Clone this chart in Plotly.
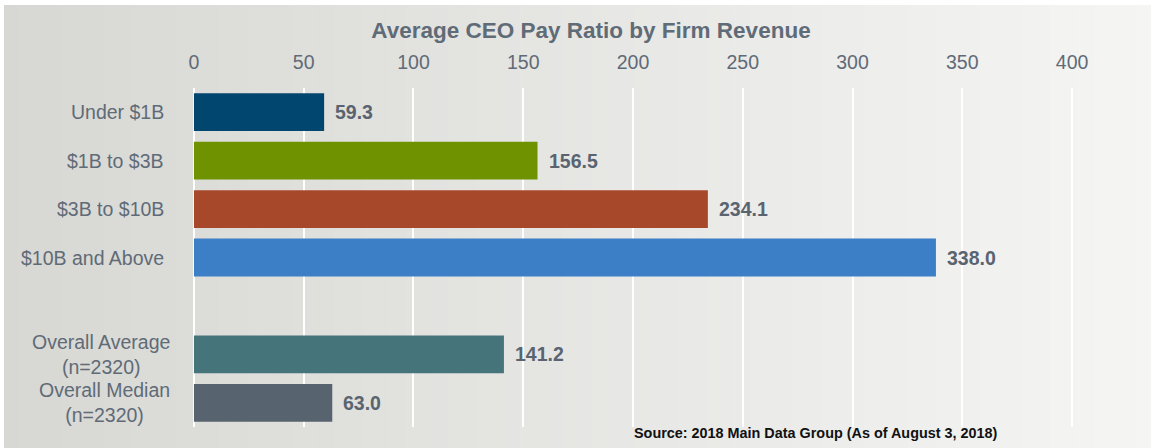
import plotly.graph_objects as go

# ---- data ----
categories = ["Under $1B", "$1B to $3B", "$3B to $10B", "$10B and Above", " ",
              "Overall Average<br>(n=2320)", "Overall Median<br>(n=2320)"]
values = [59.3, 156.5, 234.1, 338.0, None, 141.2, 63.0]
bar_colors = ["#00466f", "#6f9200", "#a8482a", "#3c7fc6", "#ffffff", "#45757b", "#57636e"]
x_ticks = [0, 50, 100, 150, 200, 250, 300, 350, 400]
title_text = "Average CEO Pay Ratio by Firm Revenue"
source_text = "Source: 2018 Main Data Group (As of August 3, 2018)"

W, H = 1151, 448
L, R, T, B = 190, 75, 88, 21
plot_w = W - L - R
plot_h = H - T - B

TXT = "#5f6b77"

fig = go.Figure()
fig.add_trace(go.Bar(
    y=categories, x=values, orientation="h",
    marker=dict(color=bar_colors, line=dict(width=0)),
    width=0.78, hoverinfo="skip", showlegend=False,
))

# background gradient (styling only)
def lerp(c1, c2, t):
    return tuple(round(a + (b - a) * t) for a, b in zip(c1, c2))

c_left = (215, 215, 211)
c_right = (245, 245, 244)
n = 80
x0px, x1px = 4, W
shapes = []
for i in range(n):
    a = x0px + (x1px - x0px) * i / n
    b = x0px + (x1px - x0px) * (i + 1) / n + 0.6
    c = lerp(c_left, c_right, (i + 0.5) / n)
    shapes.append(dict(type="rect", xref="paper", yref="paper",
                       x0=(a - L) / plot_w, x1=(b - L) / plot_w,
                       y0=-B / plot_h, y1=(H - 5 - B) / plot_h,
                       fillcolor="rgb(%d,%d,%d)" % c, line=dict(width=0),
                       layer="below"))

annotations = []
# category labels
for cat in categories:
    if cat.strip() == "":
        continue
    two = "<br>" in cat
    annotations.append(dict(
        x=0, xref="paper", y=cat, yref="y", text=cat, showarrow=False,
        xanchor="right", yanchor="middle", align="center",
        xshift=-18 if two else -24,
        font=dict(family="Liberation Sans, Arial, sans-serif", size=19.5, color=TXT),
    ))
# value labels
for cat, v in zip(categories, values):
    if v is None:
        continue
    annotations.append(dict(
        x=v, xref="x", y=cat, yref="y", text="%.1f" % v, showarrow=False,
        xanchor="left", yanchor="middle", xshift=9,
        font=dict(family="Liberation Sans, Arial, sans-serif", size=19.5,
                  color="#5a6470", weight="bold"),
    ))
# source
annotations.append(dict(
    x=(632 - L) / plot_w, xref="paper", y=(H - 433 - B) / plot_h, yref="paper",
    text=source_text, showarrow=False, xanchor="left", yanchor="middle",
    font=dict(family="Liberation Sans, Arial, sans-serif", size=14.4,
              color="#111111", weight="bold"),
))

fig.update_layout(
    width=W, height=H,
    margin=dict(l=L, r=R, t=T, b=B, pad=0),
    paper_bgcolor="#ffffff", plot_bgcolor="rgba(0,0,0,0)",
    title=dict(text="<b>" + title_text + "</b>", x=591 / W, xref="container",
               xanchor="center", y=1 - 30 / H, yref="container", yanchor="middle",
               font=dict(family="Liberation Sans, Arial, sans-serif", size=22.5, color=TXT)),
    xaxis=dict(side="top", range=[-1.8, 401.8], tickvals=x_ticks,
               ticktext=[str(t) for t in x_ticks],
               showgrid=True, gridcolor="#ffffff", gridwidth=2,
               zeroline=True, zerolinecolor="#ffffff", zerolinewidth=2,
               showline=False, ticks="outside", ticklen=10, tickcolor="rgba(0,0,0,0)",
               tickfont=dict(family="Liberation Sans, Arial, sans-serif", size=19.5, color=TXT),
               fixedrange=True),
    yaxis=dict(categoryorder="array", categoryarray=categories, range=[6.5, -0.5],
               showticklabels=False, showgrid=False, zeroline=False, showline=False,
               ticks="", fixedrange=True),
    shapes=shapes, annotations=annotations, bargap=0.2,
)

fig.write_html("out.html", config={"displayModeBar": False},
               post_script="document.body.style.margin='0';document.body.style.overflow='hidden';")
